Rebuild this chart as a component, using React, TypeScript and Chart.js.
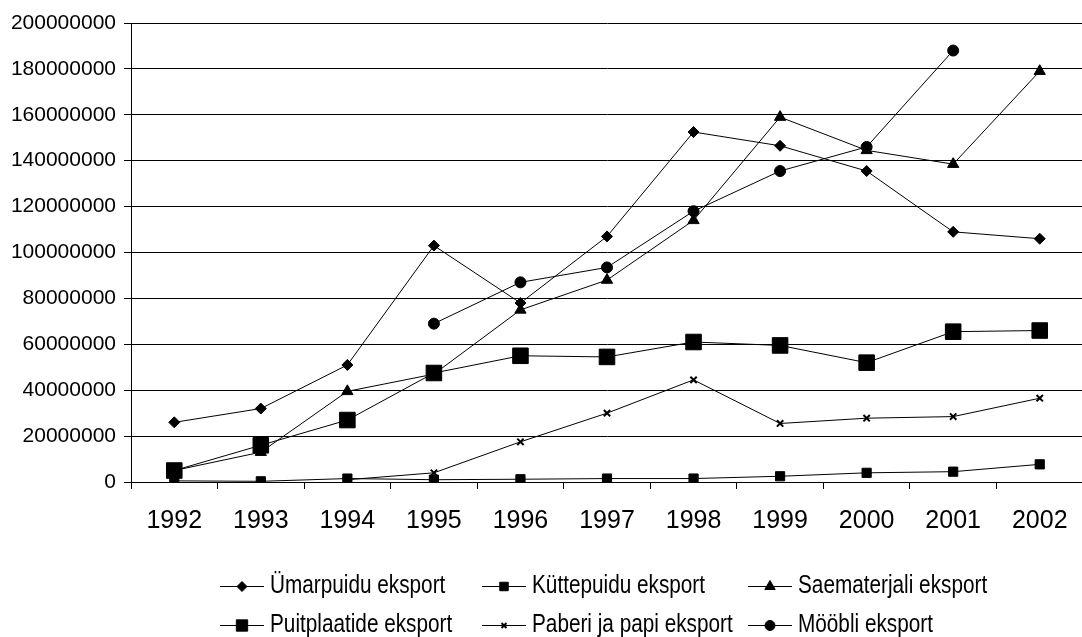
import React, { useEffect, useRef } from 'react';
import { Chart, registerables } from 'chart.js';
import { drawPoint } from 'chart.js/helpers';

Chart.register(...registerables);

const years = ['1992', '1993', '1994', '1995', '1996', '1997', '1998', '1999', '2000', '2001', '2002'];

const umarpuidu = [26000000, 32000000, 51000000, 103000000, 78000000, 107000000, 152500000, 146500000, 135500000, 109000000, 106000000];
const kuttepuidu = [500000, 300000, 1500000, 1000000, 1200000, 1500000, 1500000, 2500000, 4000000, 4500000, 7700000];
const saematerjali = [5000000, 13000000, 39500000, 47000000, 75000000, 88000000, 114000000, 159000000, 144500000, 138500000, 179000000];
const puitplaatide = [5000000, 16000000, 27000000, 47500000, 55000000, 54500000, 61000000, 59500000, 52000000, 65500000, 66000000];
const paberi = [null, null, 1000000, 4000000, 17500000, 30000000, 44500000, 25500000, 27800000, 28500000, 36500000];
const moobli = [null, null, null, 69000000, 87000000, 93500000, 118000000, 135500000, 146000000, 188000000, null];

const seriesLabels = [
  'Ümarpuidu eksport',
  'Küttepuidu eksport',
  'Saematerjali eksport',
  'Puitplaatide eksport',
  'Paberi ja papi eksport',
  'Mööbli eksport',
];

const yMax = 200000000;
const yStep = 20000000;

const SANS = "'Liberation Sans', Arial, sans-serif";

const styles = [
  { pointStyle: 'rectRot', radius: 5.5, legendRadius: 5, borderWidth: 1 },
  { pointStyle: 'rect', radius: 6.5, legendRadius: 6, borderWidth: 1 },
  { pointStyle: 'triangle', radius: 6.5, legendRadius: 6, borderWidth: 1 },
  { pointStyle: 'rect', radius: 11, legendRadius: 8, borderWidth: 1 },
  { pointStyle: 'crossRot', radius: 4.5, legendRadius: 3.5, borderWidth: 2 },
  { pointStyle: 'circle', radius: 5.5, legendRadius: 5, borderWidth: 1 },
];

const legendPlugin = {
  id: 'gridLegend',
  afterDraw(chart: any) {
    const ctx = chart.ctx;
    const cols = [220, 482, 748];
    const rows = [586, 625];
    ctx.save();
    chart.data.datasets.forEach((ds: any, i: number) => {
      const x0 = cols[i % 3];
      const y = rows[Math.floor(i / 3)];
      ctx.strokeStyle = '#000';
      ctx.fillStyle = '#000';
      ctx.lineWidth = 1;
      ctx.beginPath();
      ctx.moveTo(x0, y + 0.5);
      ctx.lineTo(x0 + 44, y + 0.5);
      ctx.stroke();
      const st = styles[i];
      ctx.lineWidth = st.borderWidth;
      drawPoint(ctx, { pointStyle: st.pointStyle, rotation: 0, radius: st.legendRadius, borderWidth: st.borderWidth } as any, x0 + 22, y + 0.5);
      ctx.save();
      ctx.translate(x0 + 50, y);
      ctx.scale(0.83, 1);
      ctx.font = `25px ${SANS}`;
      ctx.textBaseline = 'middle';
      ctx.textAlign = 'left';
      ctx.fillText(ds.label, 0, 0);
      ctx.restore();
    });
    ctx.restore();
  },
};

export default function App() {
  const canvasRef = useRef<HTMLCanvasElement | null>(null);

  useEffect(() => {
    const canvas = canvasRef.current;
    if (!canvas) return;
    const allData = [umarpuidu, kuttepuidu, saematerjali, puitplaatide, paberi, moobli];
    const chart = new Chart(canvas, {
      type: 'line',
      data: {
        labels: years,
        datasets: allData.map((d, i) => ({
          label: seriesLabels[i],
          data: d,
          borderColor: '#000',
          backgroundColor: '#000',
          borderWidth: 1,
          pointStyle: styles[i].pointStyle as any,
          pointRadius: styles[i].radius,
          pointHoverRadius: styles[i].radius,
          pointBackgroundColor: '#000',
          pointBorderColor: '#000',
          pointBorderWidth: styles[i].borderWidth,
          spanGaps: false,
          tension: 0,
          fill: false,
        })),
      },
      options: {
        responsive: false,
        animation: false,
        devicePixelRatio: 1,
        layout: { padding: { top: 23, left: 0, right: 6, bottom: 0 } },
        plugins: {
          legend: { display: false },
          tooltip: { enabled: false },
          title: { display: false },
        },
        scales: {
          x: {
            offset: true,
            grid: {
              offset: true,
              display: true,
              drawOnChartArea: false,
              drawTicks: true,
              tickLength: 7,
              color: '#000',
              lineWidth: 1,
            },
            border: { display: true, color: '#000', width: 1 },
            ticks: {
              color: '#000',
              font: { family: SANS, size: 25 },
              padding: 17,
              maxRotation: 0,
              autoSkip: false,
            },
            afterFit: (scale: any) => {
              scale.height = 155;
            },
          },
          y: {
            min: 0,
            max: yMax,
            grid: {
              color: '#000',
              lineWidth: 1,
              drawTicks: true,
              tickLength: 7,
            },
            border: { display: true, color: '#000', width: 1 },
            ticks: {
              stepSize: yStep,
              color: '#000',
              font: { family: SANS, size: 21 },
              padding: 8,
              callback: (v: any) => String(v),
            },
            afterFit: (scale: any) => {
              scale.width = 131;
            },
          },
        },
      },
      plugins: [legendPlugin],
    });
    return () => chart.destroy();
  }, []);

  return (
    <div style={{ position: 'absolute', left: 0, top: 0, width: 1082, height: 637, overflow: 'hidden', background: '#fff' }}>
      <canvas ref={canvasRef} width={1095} height={637} style={{ width: 1095, height: 637, display: 'block' }} />
    </div>
  );
}
